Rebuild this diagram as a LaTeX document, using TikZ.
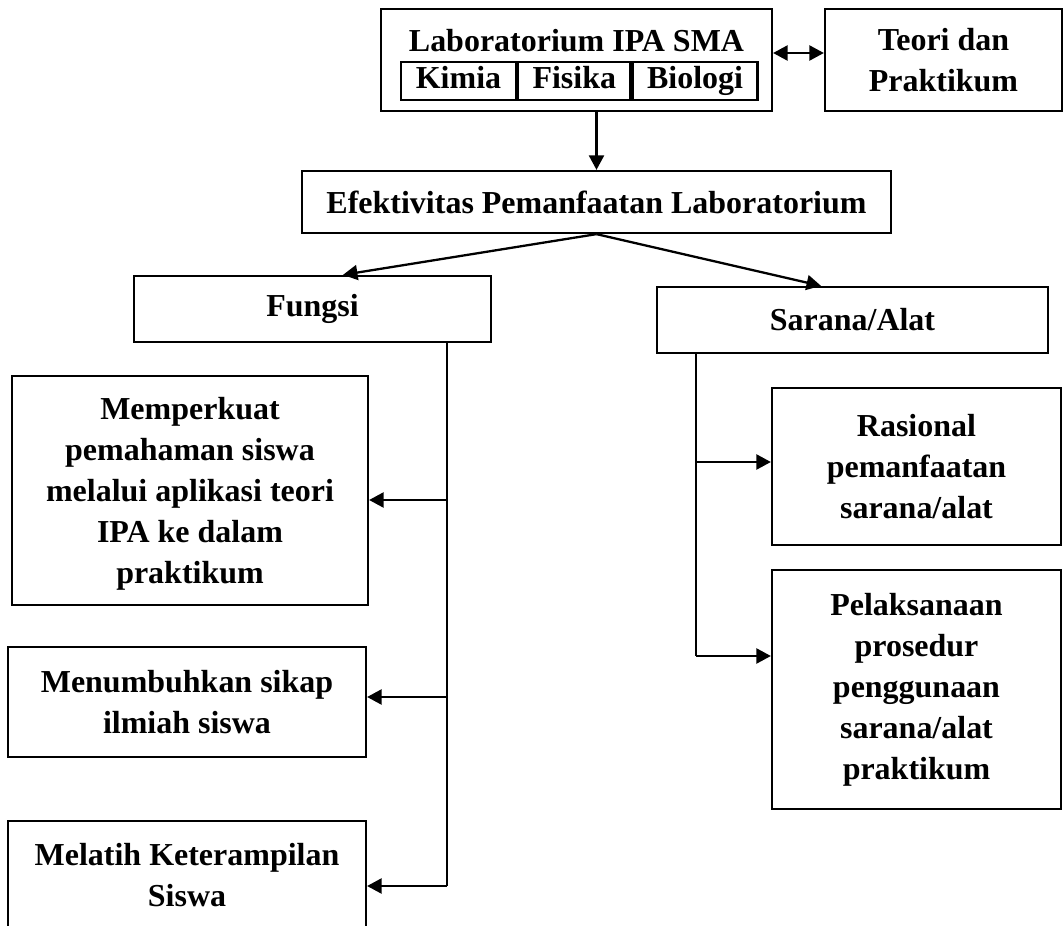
\documentclass[tikz,border=0pt]{standalone}
\usepackage{fontspec}
\setmainfont{Liberation Serif}
\usetikzlibrary{arrows.meta,positioning}

\begin{document}
\begin{tikzpicture}[x=0.02cm, y=-0.02cm, >={Triangle[length=2.9mm,width=3mm]}, line width=1.3pt,
    font=\fontsize{18.2}{23.3}\selectfont\bfseries]
    \tikzstyle{kotak}=[rectangle,draw,align=center,inner sep=0pt]
    \tikzstyle{sel}=[rectangle,draw,inner sep=0pt,minimum height=0.76cm,text height=0.45cm,text depth=0.14cm]
    \useasboundingbox (0,0) rectangle (1063,926);
    \node[kotak,minimum width=7.82cm,minimum height=2.04cm] (lab) at (576.5,60){};
    \node (judul) at (576.5,41){Laboratorium IPA SMA};
    \node[sel,minimum width=2.30cm] (kimia) at (458.5,81){Kimia};
    \node[sel,minimum width=2.24cm,right=0pt of kimia] (fisika){Fisika};
    \node[sel,minimum width=2.50cm,right=0pt of fisika] (biologi){Biologi};
    \node[kotak,minimum width=4.74cm,minimum height=2.04cm] (teori) at (943.5,60){Teori dan\\Praktikum};
    \node[kotak,minimum width=11.78cm,minimum height=1.24cm] (efek) at (596.5,202){Efektivitas Pemanfaatan Laboratorium};
    \node[kotak,minimum width=7.14cm,minimum height=1.32cm] (fungsi) at (312.5,309){Fungsi};
    \node[kotak,minimum width=7.82cm,minimum height=1.32cm] (sarana) at (852.5,320){Sarana/Alat};
    \node[kotak,minimum width=7.12cm,minimum height=4.58cm,text depth=0pt] (perkuat) at (190,490.5){Memperkuat\\pemahaman siswa\\melalui aplikasi teori\\IPA ke dalam\\praktikum};
    \node[kotak,minimum width=7.16cm,minimum height=2.2cm] (sikap) at (187,702){Menumbuhkan sikap\\ilmiah siswa};
    \node[kotak,minimum width=7.16cm,minimum height=2.18cm] (latih) at (187,875.5){Melatih Keterampilan\\Siswa};
    \node[kotak,minimum width=5.78cm,minimum height=3.14cm] (rasional) at (916.5,466.5){Rasional\\pemanfaatan\\sarana/alat};
    \node[kotak,minimum width=5.78cm,minimum height=4.78cm] (prosedur) at (916.5,689.5){Pelaksanaan\\prosedur\\penggunaan\\sarana/alat\\praktikum};
    \coordinate (fa) at (447,500);
    \coordinate (fb) at (447,697);
    \coordinate (fc) at (447,886);
    \coordinate (sa) at (696,462);
    \coordinate (sb) at (696,656);
    \draw[<->] ([yshift=0.14cm]lab.east) -- ([yshift=0.14cm]teori.west);
    \draw[->] (lab.south -| efek.north) -- (efek.north);
    \draw[->] (efek.south) -- ([xshift=0.61cm]fungsi.north);
    \draw[->] (efek.south) -- ([xshift=-0.63cm]sarana.north);
    \draw (fungsi.south -| fa) -- (fc);
    \draw[->] (fa) -- (fa -| perkuat.east);
    \draw[->] (fb) -- (fb -| sikap.east);
    \draw[->] (fc) -- (fc -| latih.east);
    \draw (sarana.south -| sa) -- (sb);
    \draw[->] (sa) -- (sa -| rasional.west);
    \draw[->] (sb) -- (sb -| prosedur.west);
\end{tikzpicture}
\end{document}
